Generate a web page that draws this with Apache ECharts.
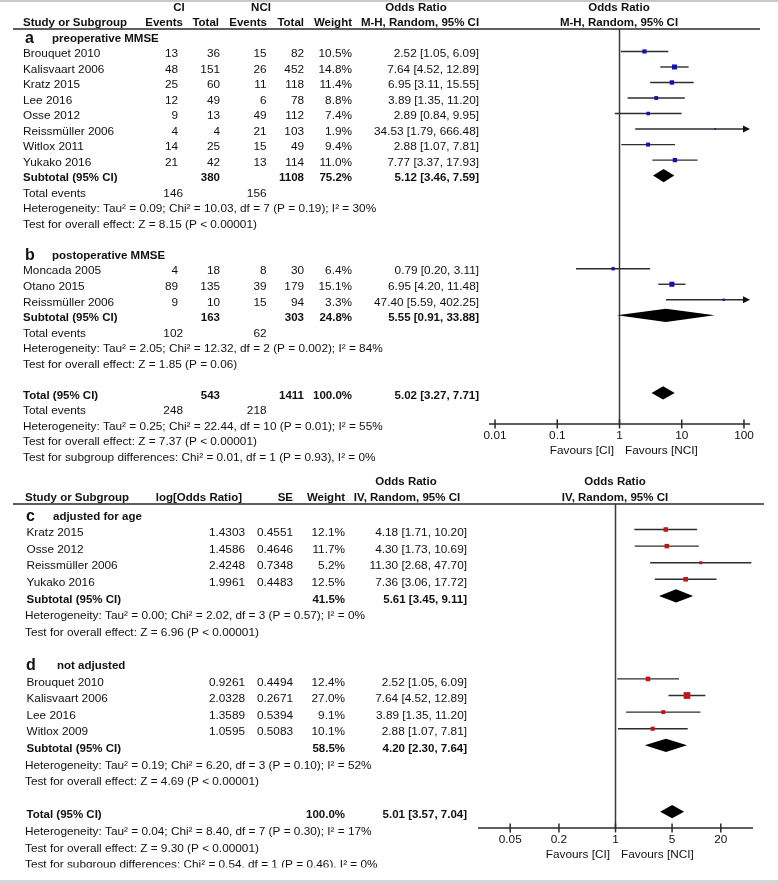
<!DOCTYPE html>
<html><head><meta charset="utf-8">
<script src="https://cdn.jsdelivr.net/npm/echarts@6/dist/echarts.min.js"></script>
<style>html,body{margin:0;padding:0;background:#fff}#c{width:778px;height:884px}</style>
</head><body><div id="c"></div>
<script>
// ---------- DATA: panel a (preoperative MMSE) ----------
const studiesA   = ['Brouquet 2010','Kalisvaart 2006','Kratz 2015','Lee 2016','Osse 2012','Reissmüller 2006','Witlox 2011','Yukako 2016'];
const ciEventsA  = [13, 48, 25, 12, 9, 4, 14, 21];
const ciTotalA   = [36, 151, 60, 49, 13, 4, 25, 42];
const nciEventsA = [15, 26, 11, 6, 49, 21, 15, 13];
const nciTotalA  = [82, 452, 118, 78, 112, 103, 49, 114];
const weightA    = [10.5, 14.8, 11.4, 8.8, 7.4, 1.9, 9.4, 11.0];
const orA        = [2.52, 7.64, 6.95, 3.89, 2.89, 34.53, 2.88, 7.77];
const lowA       = [1.05, 4.52, 3.11, 1.35, 0.84, 1.79, 1.07, 3.37];
const highA      = [6.09, 12.89, 15.55, 11.20, 9.95, 666.48, 7.81, 17.93];
const subA       = {ciTotal:380, nciTotal:1108, weight:75.2, or:5.12, low:3.46, high:7.59, ciEvents:146, nciEvents:156};

// ---------- DATA: panel b (postoperative MMSE) ----------
const studiesB   = ['Moncada 2005','Otano 2015','Reissmüller 2006'];
const ciEventsB  = [4, 89, 9];
const ciTotalB   = [18, 135, 10];
const nciEventsB = [8, 39, 15];
const nciTotalB  = [30, 179, 94];
const weightB    = [6.4, 15.1, 3.3];
const orB        = [0.79, 6.95, 47.40];
const lowB       = [0.20, 4.20, 5.59];
const highB      = [3.11, 11.48, 402.25];
const subB       = {ciTotal:163, nciTotal:303, weight:24.8, or:5.55, low:0.91, high:33.88, ciEvents:102, nciEvents:62};
const totAB      = {ciTotal:543, nciTotal:1411, weight:100.0, or:5.02, low:3.27, high:7.71, ciEvents:248, nciEvents:218};

// ---------- DATA: panel c (adjusted for age) ----------
const studiesC = ['Kratz 2015','Osse 2012','Reissmüller 2006','Yukako 2016'];
const logOrC   = ['1.4303','1.4586','2.4248','1.9961'];
const seC      = ['0.4551','0.4646','0.7348','0.4483'];
const weightC  = [12.1, 11.7, 5.2, 12.5];
const orC      = [4.18, 4.30, 11.30, 7.36];
const lowC     = [1.71, 1.73, 2.68, 3.06];
const highC    = [10.20, 10.69, 47.70, 17.72];
const subC     = {weight:41.5, or:5.61, low:3.45, high:9.11};

// ---------- DATA: panel d (not adjusted) ----------
const studiesD = ['Brouquet 2010','Kalisvaart 2006','Lee 2016','Witlox 2009'];
const logOrD   = ['0.9261','2.0328','1.3589','1.0595'];
const seD      = ['0.4494','0.2671','0.5394','0.5083'];
const weightD  = [12.4, 27.0, 9.1, 10.1];
const orD      = [2.52, 7.64, 3.89, 2.88];
const lowD     = [1.05, 4.52, 1.35, 1.07];
const highD    = [6.09, 12.89, 11.20, 7.81];
const subD     = {weight:58.5, or:4.20, low:2.30, high:7.64};
const totCD    = {weight:100.0, or:5.01, low:3.57, high:7.04};

// ---------- statistics text ----------
const hetA  = 'Heterogeneity: Tau² = 0.09; Chi² = 10.03, df = 7 (P = 0.19); I² = 30%';
const testA = 'Test for overall effect: Z = 8.15 (P < 0.00001)';
const hetB  = 'Heterogeneity: Tau² = 2.05; Chi² = 12.32, df = 2 (P = 0.002); I² = 84%';
const testB = 'Test for overall effect: Z = 1.85 (P = 0.06)';
const hetAB = 'Heterogeneity: Tau² = 0.25; Chi² = 22.44, df = 10 (P = 0.01); I² = 55%';
const testAB= 'Test for overall effect: Z = 7.37 (P < 0.00001)';
const subgAB= 'Test for subgroup differences: Chi² = 0.01, df = 1 (P = 0.93), I² = 0%';
const hetC  = 'Heterogeneity: Tau² = 0.00; Chi² = 2.02, df = 3 (P = 0.57); I² = 0%';
const testC = 'Test for overall effect: Z = 6.96 (P < 0.00001)';
const hetD  = 'Heterogeneity: Tau² = 0.19; Chi² = 6.20, df = 3 (P = 0.10); I² = 52%';
const testD = 'Test for overall effect: Z = 4.69 (P < 0.00001)';
const hetCD = 'Heterogeneity: Tau² = 0.04; Chi² = 8.40, df = 7 (P = 0.30); I² = 17%';
const testCD= 'Test for overall effect: Z = 9.30 (P < 0.00001)';
const subgCD= 'Test for subgroup differences: Chi² = 0.54, df = 1 (P = 0.46), I² = 0%';

// ---------- axis ticks ----------
const topTicks = [0.01, 0.1, 1, 10, 100];
const topTickLabels = ['0.01', '0.1', '1', '10', '100'];
const botTicks = [0.05, 0.2, 1, 5, 20];
const botTickLabels = ['0.05', '0.2', '1', '5', '20'];

// ---------- layout ----------
const FF = '"Liberation Sans", Arial, Helvetica, sans-serif';
const TXT = '#111';
const FS = 11.8, FSB = 11.5;
const SQ_K = 1.3;
const TOP = {idx:0, grid:{left:489, width:261, top:4.9, height:30*15.52}, xMin:0.008, xMax:125, yMin:0, yMax:30,
             dy:2.5, hdrRow:1.553, axisRow:27.0, ruleX:[13,760], color:'#1212b0'};
const BOT = {idx:1, grid:{left:478, width:275, top:463.1, height:25*16.6}, xMin:0.02, xMax:50, yMin:-3, yMax:22,
             dy:3.5, hdrRow:-0.536, axisRow:18.98, ruleX:[13,764], color:'#c41414'};

const fmtOR = (e,l,h) => e.toFixed(2) + ' [' + l.toFixed(2) + ', ' + h.toFixed(2) + ']';
const fmtW = w => w.toFixed(1) + '%';

// ---------- table cells: top ----------
const cellsTop = [];
function cell(arr, row, x, t, opt) { arr.push(Object.assign({row:row, x:x, t:String(t)}, opt || {})); }
const R = {a:'right'}, RB = {a:'right', b:true}, CB = {a:'center', b:true}, BB = {b:true};
const T = {name:23, ciEv:178, ciEvTot:183, ciTot:220, nciEv:266.5, nciTot:304, w:352, or:479};
cell(cellsTop, 0, 179, 'CI', CB);
cell(cellsTop, 0, 261, 'NCI', CB);
cell(cellsTop, 0, 416, 'Odds Ratio', CB);
cell(cellsTop, 0, 619, 'Odds Ratio', CB);
cell(cellsTop, 1, T.name, 'Study or Subgroup', BB);
cell(cellsTop, 1, 183, 'Events', RB);
cell(cellsTop, 1, 219, 'Total', RB);
cell(cellsTop, 1, 267, 'Events', RB);
cell(cellsTop, 1, 304, 'Total', RB);
cell(cellsTop, 1, 352, 'Weight', RB);
cell(cellsTop, 1, 420, 'M-H, Random, 95% CI', CB);
cell(cellsTop, 1, 619, 'M-H, Random, 95% CI', CB);

function topGroup(r0, label, title, names, ce, ct, ne, nt, w, or, lo, hi, sub, het, test) {
  cell(cellsTop, r0, 25, label, {b:true, s:16});
  cell(cellsTop, r0, 52, title, BB);
  names.forEach((n, i) => {
    const r = r0 + 1 + i;
    cell(cellsTop, r, T.name, n);
    cell(cellsTop, r, T.ciEv, ce[i], R);
    cell(cellsTop, r, T.ciTot, ct[i], R);
    cell(cellsTop, r, T.nciEv, ne[i], R);
    cell(cellsTop, r, T.nciTot, nt[i], R);
    cell(cellsTop, r, T.w, fmtW(w[i]), R);
    cell(cellsTop, r, T.or, fmtOR(or[i], lo[i], hi[i]), R);
  });
  const rs = r0 + 1 + names.length;
  cell(cellsTop, rs, T.name, 'Subtotal (95% CI)', BB);
  cell(cellsTop, rs, T.ciTot, sub.ciTotal, RB);
  cell(cellsTop, rs, T.nciTot, sub.nciTotal, RB);
  cell(cellsTop, rs, T.w, fmtW(sub.weight), RB);
  cell(cellsTop, rs, T.or, fmtOR(sub.or, sub.low, sub.high), RB);
  cell(cellsTop, rs + 1, T.name, 'Total events');
  cell(cellsTop, rs + 1, T.ciEvTot, sub.ciEvents, R);
  cell(cellsTop, rs + 1, T.nciEv, sub.nciEvents, R);
  cell(cellsTop, rs + 2, T.name, het);
  cell(cellsTop, rs + 3, T.name, test);
  return rs;
}
const rowSubA = topGroup(2, 'a', 'preoperative MMSE', studiesA, ciEventsA, ciTotalA, nciEventsA, nciTotalA, weightA, orA, lowA, highA, subA, hetA, testA);
const rowSubB = topGroup(16, 'b', 'postoperative MMSE', studiesB, ciEventsB, ciTotalB, nciEventsB, nciTotalB, weightB, orB, lowB, highB, subB, hetB, testB);
const rowTotAB = 25;
cell(cellsTop, rowTotAB, T.name, 'Total (95% CI)', BB);
cell(cellsTop, rowTotAB, T.ciTot, totAB.ciTotal, RB);
cell(cellsTop, rowTotAB, T.nciTot, totAB.nciTotal, RB);
cell(cellsTop, rowTotAB, T.w, fmtW(totAB.weight), RB);
cell(cellsTop, rowTotAB, T.or, fmtOR(totAB.or, totAB.low, totAB.high), RB);
cell(cellsTop, 26, T.name, 'Total events');
cell(cellsTop, 26, T.ciEvTot, totAB.ciEvents, R);
cell(cellsTop, 26, T.nciEv, totAB.nciEvents, R);
cell(cellsTop, 27, T.name, hetAB);
cell(cellsTop, 28, T.name, testAB);
cell(cellsTop, 29, T.name, subgAB);

// ---------- table cells: bottom ----------
const cellsBot = [];
const Bc = {name:26.5, lead:25, log:245, se:293, w:345, or:467};
cell(cellsBot, -2.07, 406, 'Odds Ratio', CB);
cell(cellsBot, -2.07, 615, 'Odds Ratio', CB);
cell(cellsBot, -1.11, Bc.lead, 'Study or Subgroup', BB);
cell(cellsBot, -1.11, 242, 'log[Odds Ratio]', RB);
cell(cellsBot, -1.11, Bc.se, 'SE', RB);
cell(cellsBot, -1.11, Bc.w, 'Weight', RB);
cell(cellsBot, -1.11, 407, 'IV, Random, 95% CI', CB);
cell(cellsBot, -1.11, 615, 'IV, Random, 95% CI', CB);

function botGroup(r0, label, title, titleX, names, lg, se, w, or, lo, hi, sub, het, test) {
  cell(cellsBot, r0, 26, label, {b:true, s:16});
  cell(cellsBot, r0, titleX, title, BB);
  names.forEach((n, i) => {
    const r = r0 + 1 + i;
    cell(cellsBot, r, Bc.name, n);
    cell(cellsBot, r, Bc.log, lg[i], R);
    cell(cellsBot, r, Bc.se, se[i], R);
    cell(cellsBot, r, Bc.w, fmtW(w[i]), R);
    cell(cellsBot, r, Bc.or, fmtOR(or[i], lo[i], hi[i]), R);
  });
  const rs = r0 + 1 + names.length;
  cell(cellsBot, rs, Bc.name, 'Subtotal (95% CI)', BB);
  cell(cellsBot, rs, Bc.w, fmtW(sub.weight), RB);
  cell(cellsBot, rs, Bc.or, fmtOR(sub.or, sub.low, sub.high), RB);
  cell(cellsBot, rs + 1, Bc.lead, het);
  cell(cellsBot, rs + 2, Bc.lead, test);
  return rs;
}
const rowSubC = botGroup(0, 'c', 'adjusted for age', 53, studiesC, logOrC, seC, weightC, orC, lowC, highC, subC, hetC, testC);
const rowSubD = botGroup(9, 'd', 'not adjusted', 57, studiesD, logOrD, seD, weightD, orD, lowD, highD, subD, hetD, testD);
const rowTotCD = 18;
cell(cellsBot, rowTotCD, Bc.name, 'Total (95% CI)', BB);
cell(cellsBot, rowTotCD, Bc.w, fmtW(totCD.weight), RB);
cell(cellsBot, rowTotCD, Bc.or, fmtOR(totCD.or, totCD.low, totCD.high), RB);
cell(cellsBot, 19, Bc.lead, hetCD);
cell(cellsBot, 20, Bc.lead, testCD);
cell(cellsBot, 21, Bc.lead, subgCD);

// ---------- series builders ----------
function font(c) { return (c.b ? 'bold ' : '') + (c.s || (c.b ? FSB : FS)) + 'px ' + FF; }

function tableSeries(P, cells) {
  return {
    type:'custom', xAxisIndex:P.idx, yAxisIndex:P.idx, clip:false, silent:true, z:5,
    data: cells.map(c => [1, c.row]),
    renderItem: function (params, api) {
      const c = cells[params.dataIndex];
      const y = api.coord([1, c.row])[1] + P.dy;
      return {type:'text', x:c.x, y:y,
        style:{text:c.t, fill:TXT, font:font(c), align:c.a || 'left', verticalAlign:'middle'}};
    }
  };
}

function ruleSeries(P) {
  return {
    type:'custom', xAxisIndex:P.idx, yAxisIndex:P.idx, clip:false, silent:true, z:3,
    data:[[1, P.hdrRow]],
    renderItem: function (params, api) {
      const y = api.coord([1, P.hdrRow])[1];
      const yA = api.coord([1, P.axisRow])[1];
      const x1 = api.coord([1, P.hdrRow])[0];
      return {type:'group', children:[
        {type:'line', shape:{x1:P.ruleX[0], y1:y, x2:P.ruleX[1], y2:y}, style:{stroke:'#2a2a2a', lineWidth:1.6}},
        {type:'line', shape:{x1:x1, y1:y, x2:x1, y2:yA}, style:{stroke:'#3a3a3a', lineWidth:1.5}}
      ]};
    }
  };
}

function axisSeries(P, ticks, labels) {
  return {
    type:'custom', xAxisIndex:P.idx, yAxisIndex:P.idx, clip:false, silent:true, z:3,
    data: ticks.map(v => [v, P.axisRow]),
    renderItem: function (params, api) {
      const p = api.coord([api.value(0), P.axisRow]);
      const ch = [
        {type:'line', shape:{x1:p[0], y1:p[1]-4.5, x2:p[0], y2:p[1]+4.5}, style:{stroke:'#2a2a2a', lineWidth:1.5}},
        {type:'text', x:p[0], y:p[1]+11.5, style:{text:labels[params.dataIndex], fill:TXT, font:FS + 'px ' + FF, align:'center', verticalAlign:'middle'}}
      ];
      if (params.dataIndex === 0) {
        const a = api.coord([P.xMin, P.axisRow]), b = api.coord([P.xMax, P.axisRow]), o = api.coord([1, P.axisRow]);
        ch.push({type:'line', shape:{x1:a[0], y1:a[1], x2:b[0], y2:b[1]}, style:{stroke:'#2a2a2a', lineWidth:1.5}});
        ch.push({type:'text', x:o[0]-5.5, y:o[1]+26.5, style:{text:'Favours [CI]', fill:TXT, font:FS + 'px ' + FF, align:'right', verticalAlign:'middle'}});
        ch.push({type:'text', x:o[0]+5.5, y:o[1]+26.5, style:{text:'Favours [NCI]', fill:TXT, font:FS + 'px ' + FF, align:'left', verticalAlign:'middle'}});
      }
      return {type:'group', children:ch};
    }
  };
}

function studySeries(P, est, lo, hi, w, rowStart) {
  return {
    type:'custom', xAxisIndex:P.idx, yAxisIndex:P.idx, clip:false, silent:true, z:4,
    data: est.map((e, i) => [e, rowStart + i, lo[i], hi[i], w[i]]),
    renderItem: function (params, api) {
      const e = api.value(0), r = api.value(1), l = api.value(2), h = api.value(3), wt = api.value(4);
      const arrow = h > P.xMax;
      const pe = api.coord([e, r]), pl = api.coord([l, r]), ph = api.coord([Math.min(h, P.xMax), r]);
      const ch = [];
      ch.push({type:'line', shape:{x1:pl[0], y1:pl[1], x2:arrow ? ph[0]-5 : ph[0], y2:ph[1]}, style:{stroke:'#2e2e2e', lineWidth:1.4}});
      if (arrow) ch.push({type:'polygon', shape:{points:[[ph[0], ph[1]], [ph[0]-7, ph[1]-3.5], [ph[0]-7, ph[1]+3.5]]}, style:{fill:'#111'}});
      const s = SQ_K * Math.sqrt(wt);
      ch.push({type:'rect', shape:{x:pe[0]-s/2, y:pe[1]-s/2, width:s, height:s}, style:{fill:P.color}});
      return {type:'group', children:ch};
    }
  };
}

function diamondSeries(P, items) {
  return {
    type:'custom', xAxisIndex:P.idx, yAxisIndex:P.idx, clip:false, silent:true, z:4,
    data: items.map(d => [d.or, d.row, d.low, d.high]),
    renderItem: function (params, api) {
      const r = api.value(1);
      const pe = api.coord([api.value(0), r]), pl = api.coord([api.value(2), r]), ph = api.coord([api.value(3), r]);
      return {type:'polygon', shape:{points:[[pl[0], pl[1]], [pe[0], pe[1]-6.6], [ph[0], ph[1]], [pe[0], pe[1]+6.6]]}, style:{fill:'#000'}};
    }
  };
}

const option = {
  animation:false,
  backgroundColor:'#fff',
  grid:[Object.assign({outerBoundsMode:'none'}, TOP.grid), Object.assign({outerBoundsMode:'none'}, BOT.grid)],
  xAxis:[
    {type:'log', logBase:10, gridIndex:0, min:TOP.xMin, max:TOP.xMax, show:false},
    {type:'log', logBase:10, gridIndex:1, min:BOT.xMin, max:BOT.xMax, show:false}
  ],
  yAxis:[
    {type:'value', gridIndex:0, inverse:true, min:TOP.yMin, max:TOP.yMax, show:false},
    {type:'value', gridIndex:1, inverse:true, min:BOT.yMin, max:BOT.yMax, show:false}
  ],
  graphic:[
    {type:'rect', z:100, shape:{x:0, y:0, width:778, height:2}, style:{fill:'#c9c9c9'}},
    {type:'rect', z:100, shape:{x:0, y:867.5, width:778, height:12.5}, style:{fill:'#fff'}},
    {type:'rect', z:100, shape:{x:0, y:880, width:778, height:4}, style:{fill:'#d6d6d6'}}
  ],
  series:[
    ruleSeries(TOP), axisSeries(TOP, topTicks, topTickLabels), tableSeries(TOP, cellsTop),
    studySeries(TOP, orA, lowA, highA, weightA, 3),
    studySeries(TOP, orB, lowB, highB, weightB, 17),
    diamondSeries(TOP, [Object.assign({row:rowSubA}, subA), Object.assign({row:rowSubB}, subB), Object.assign({row:rowTotAB}, totAB)]),
    ruleSeries(BOT), axisSeries(BOT, botTicks, botTickLabels), tableSeries(BOT, cellsBot),
    studySeries(BOT, orC, lowC, highC, weightC, 1),
    studySeries(BOT, orD, lowD, highD, weightD, 10),
    diamondSeries(BOT, [Object.assign({row:rowSubC}, subC), Object.assign({row:rowSubD}, subD), Object.assign({row:rowTotCD}, totCD)])
  ]
};
const chart = echarts.init(document.getElementById('c'), null, {renderer:'canvas'});
chart.setOption(option);
</script></body></html>
